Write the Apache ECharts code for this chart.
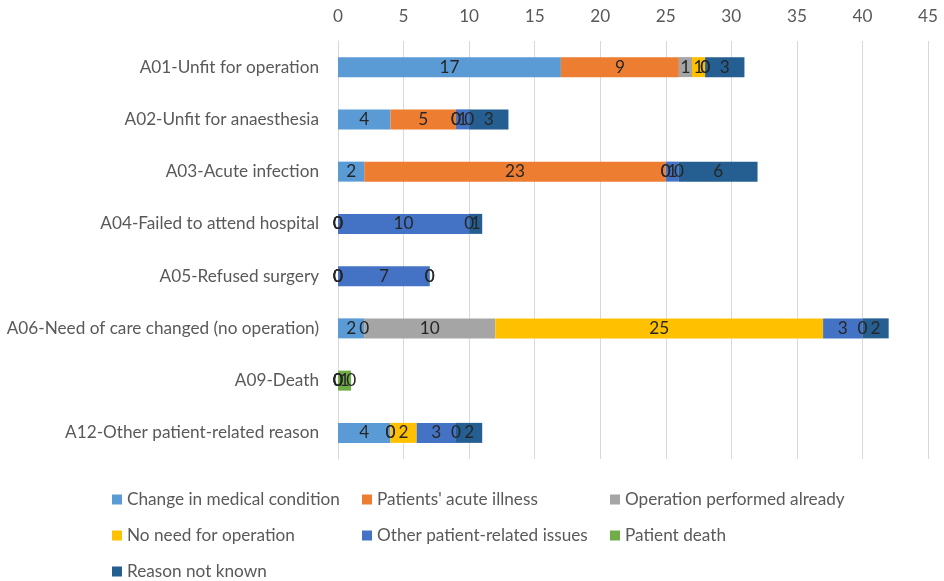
<!DOCTYPE html>
<html>
<head>
<meta charset="utf-8">
<script src="https://cdn.jsdelivr.net/npm/echarts@6/dist/echarts.min.js"></script>
<style>html,body{margin:0;padding:0;background:#fff}#c{width:944px;height:581px}</style>
</head>
<body>
<div id="c"></div>
<script>
var categories = ['A01-Unfit for operation','A02-Unfit for anaesthesia','A03-Acute infection','A04-Failed to attend hospital','A05-Refused surgery','A06-Need of care changed (no operation)','A09-Death','A12-Other patient-related reason'];
var seriesNames = ['Change in medical condition',"Patients' acute illness",'Operation performed already','No need for operation','Other patient-related issues','Patient death','Reason not known'];
var changeMedical = [17, 4, 2, 0, 0, 2, 0, 4];
var acuteIllness  = [9, 5, 23, 0, 0, 0, 0, 0];
var opPerformed   = [1, 0, 0, 0, 0, 10, 0, 0];
var noNeed        = [1, 0, 0, 0, 0, 25, 0, 2];
var otherIssues   = [0, 1, 1, 10, 7, 3, 0, 3];
var patientDeath  = [0, 0, 0, 0, 0, 0, 1, 0];
var notKnown      = [3, 3, 6, 1, 0, 2, 0, 2];
var xTicks = [0, 5, 10, 15, 20, 25, 30, 35, 40, 45];

var values = [changeMedical, acuteIllness, opPerformed, noNeed, otherIssues, patientDeath, notKnown];
var colors = ['#5B9BD5','#ED7D31','#A5A5A5','#FFC000','#4472C4','#70AD47','#255E91'];
var FONT = 'Lato';
var FS = 17.2;

var series = seriesNames.map(function(n, i){
  return {
    name: n, type: 'bar', stack: 'total', barWidth: 20,
    itemStyle: {color: colors[i]},
    label: {show: true, position: 'inside', color: '#262626', fontSize: FS, fontFamily: FONT},
    data: values[i]
  };
});

var legendPos = [[112,491],[362,491],[610,491],[112,527],[362,527],[610,527],[112,563]];
var legends = seriesNames.map(function(n, i){
  return {
    data: [n], left: legendPos[i][0], top: legendPos[i][1], padding: 0,
    itemWidth: 10, itemHeight: 10, icon: 'rect', itemGap: 5,
    textStyle: {fontSize: FS, color: '#595959', fontFamily: FONT}
  };
});

var chart = echarts.init(document.getElementById('c'));
chart.setOption({
  animation: false,
  textStyle: {fontFamily: FONT},
  grid: {left: 338, right: 16, top: 41, height: 418, containLabel: false, outerBoundsMode: 'none'},
  xAxis: {
    type: 'value', position: 'top', min: 0, max: 45, interval: 5,
    axisLine: {show: false}, axisTick: {show: false},
    splitLine: {lineStyle: {color: '#D9D9D9', width: 1}},
    axisLabel: {fontSize: FS, color: '#595959', margin: 16, fontFamily: FONT,
      formatter: function(v){ return xTicks.indexOf(v) >= 0 ? String(v) : ''; }}
  },
  yAxis: {
    type: 'category', inverse: true, data: categories,
    axisLine: {show: true, lineStyle: {color: '#D9D9D9'}}, axisTick: {show: false},
    axisLabel: {fontSize: FS, color: '#595959', margin: 19, fontFamily: FONT}
  },
  legend: legends,
  series: series
});
</script>
</body>
</html>
